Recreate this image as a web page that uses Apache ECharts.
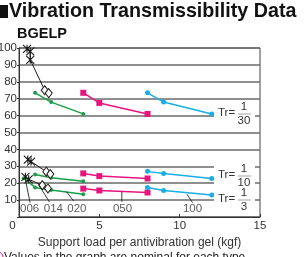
<!DOCTYPE html>
<html><head><meta charset="utf-8">
<script src="https://cdn.jsdelivr.net/npm/echarts@6/dist/echarts.min.js"></script>
<style>html,body{margin:0;padding:0;background:#fff;overflow:hidden}#c{width:308px;height:257px}</style>
</head><body><div id="c"></div>
<script>
// ---- data ----
const xTicks = [0, 5, 10, 15];
const yTicks = [10, 20, 30, 40, 50, 60, 70, 80, 90, 100];
// Tr = 1/30 group
const g020_30 = [[1, 73.5], [2, 68], [4, 61]];
const m050_30 = [[4, 73.5], [5, 67.5], [8, 61]];
const c100_30 = [[8, 73.5], [9, 68], [12, 61]];
const x006_30 = [[0.5, 99.5], [0.7, 98], [0.7, 93]];
const d014_30 = [[1.6, 75], [1.85, 73.3]];
// Tr = 1/10 group
const g020_10 = [[1, 25.2], [2, 23.2], [4, 21.2]];
const m050_10 = [[4, 25.8], [5, 24.2], [8, 22.8]];
const c100_10 = [[8, 27], [9, 25.8], [12, 22.8]];
const x006_10 = [[0.55, 34], [0.75, 32.8]];
const d014_10 = [[1.7, 26.8], [1.95, 25.4]];
// Tr = 1/3 group
const g020_3 = [[0.3, 23], [1, 17.5], [2, 16], [4, 13.5]];
const m050_3 = [[4, 16.8], [5, 15.7], [8, 14.5]];
const c100_3 = [[8, 17.5], [9, 15.7], [12, 13]];
const x006_3 = [[0.4, 23.8], [0.6, 22.3]];
const d014_3 = [[1.45, 18.8], [1.8, 16.9]];
// type labels and leader lines
const typeNames = ['006', '014', '020', '050', '100'];
const typeLabelPos = [[0.66, 4.6], [2.14, 4.6], [3.6, 4.6], [6.44, 4.6], [10.8, 4.6]];
const leaderFrom = [[0.69, 8.5], [1.9, 8.8], [3.4, 9.5], [6.4, 9], [10.8, 8.5]];
const leaderTo = [[0.4, 22], [1.2, 19.5], [2.95, 15], [6.4, 15], [10.45, 13.5]];
const trNum = ['1', '1', '1'];
const trDen = ['30', '10', '3'];

const GREEN = '#1a9e48', MAG = '#e8157f', CYAN = '#19aee6', BLK = '#1a1a1a';
const CROSS = 'path://M0,0L10,10M10,0L0,10M5,0L5,10';
const FONT = '"Liberation Sans", Arial, sans-serif';

function colorLine(data, color, symbol, size) {
  return { type: 'line', data: data, symbol: symbol, symbolSize: size, showSymbol: true,
    lineStyle: { color: color, width: 1.5 }, itemStyle: { color: color }, z: 3, animation: false };
}
function blackLine(cr, di) {
  const d = cr.map(p => ({ value: p, symbol: CROSS, symbolSize: 8,
      itemStyle: { color: 'none', borderColor: BLK, borderWidth: 1.1 } }))
    .concat(di.map(p => ({ value: p, symbol: 'diamond', symbolSize: [7, 9],
      itemStyle: { color: '#fff', borderColor: BLK, borderWidth: 1 } })));
  return { type: 'line', data: d, showSymbol: true, lineStyle: { color: BLK, width: 1 }, z: 4, animation: false };
}
const leaderData = [];
leaderFrom.forEach((p, i) => { leaderData.push(p, leaderTo[i], '-'); });

const series = [
  colorLine(g020_30, GREEN, 'circle', 4), colorLine(m050_30, MAG, 'rect', 6), colorLine(c100_30, CYAN, 'circle', 5),
  colorLine(g020_10, GREEN, 'circle', 4), colorLine(m050_10, MAG, 'rect', 6), colorLine(c100_10, CYAN, 'circle', 5),
  colorLine(g020_3, GREEN, 'circle', 4), colorLine(m050_3, MAG, 'rect', 6), colorLine(c100_3, CYAN, 'circle', 5),
  blackLine(x006_30, d014_30), blackLine(x006_10, d014_10), blackLine(x006_3, d014_3),
  { type: 'line', data: leaderData, showSymbol: false, symbol: 'none', connectNulls: false, z: 5, animation: false,
    lineStyle: { color: '#222', width: 0.9 } },
  { type: 'scatter', symbolSize: 0, z: 6, animation: false,
    data: typeLabelPos.map((p, i) => ({ value: p, name: typeNames[i] })),
    label: { show: true, position: 'inside', formatter: p => p.name, color: '#333', fontSize: 11.5, fontFamily: FONT } }
];

function trLabel(cy, num, den) {
  return [
    { type: 'rect', shape: { x: 214, y: cy - 12, width: 41, height: 24 }, style: { fill: '#fff' }, z: 10 },
    { type: 'text', x: 218, y: cy - 1, style: { text: 'Tr=', fontSize: 11.5, fontFamily: FONT, fill: '#333', verticalAlign: 'middle' }, z: 11 },
    { type: 'text', x: 244, y: cy - 7, style: { text: num, fontSize: 11.5, fontFamily: FONT, fill: '#333', align: 'center', verticalAlign: 'middle' }, z: 11 },
    { type: 'text', x: 244, y: cy + 7, style: { text: den, fontSize: 11.5, fontFamily: FONT, fill: '#333', align: 'center', verticalAlign: 'middle' }, z: 11 },
    { type: 'line', shape: { x1: 238, y1: cy, x2: 251, y2: cy }, style: { stroke: '#666', lineWidth: 0.6 }, z: 11 }
  ];
}

const chart = echarts.init(document.getElementById('c'), null, { renderer: 'canvas' });
chart.setOption({
  animation: false,
  backgroundColor: '#fff',
  grid: { left: 19, right: 48, top: 48, bottom: 40, containLabel: false, outerBoundsMode: 'none',
    show: true, borderColor: '#444', borderWidth: 1, backgroundColor: 'transparent' },
  xAxis: {
    type: 'value', min: 0, max: 15, interval: 5,
    name: 'Support load per antivibration gel (kgf)', nameLocation: 'middle', nameGap: 18,
    nameTextStyle: { fontSize: 12, color: '#333', fontFamily: FONT },
    axisLine: { lineStyle: { color: '#333', width: 1 } },
    axisTick: { show: true, inside: true, length: 3, lineStyle: { color: '#333' } },
    splitLine: { show: false },
    axisLabel: { margin: 3, fontSize: 11.5, color: '#333', fontFamily: FONT,
      formatter: v => xTicks.indexOf(v) === 0 ? '{z|' + v + '}' : String(v),
      rich: { z: { padding: [0, 13, 0, 0], fontSize: 11.5, color: '#333', fontFamily: FONT } } }
  },
  yAxis: {
    type: 'value', min: 0, max: 100, interval: 10,
    name: 'Vibration transmissibility (%)', nameLocation: 'middle', nameGap: 15.5, nameRotate: 90,
    nameTextStyle: { fontSize: 11, color: '#333', fontFamily: FONT },
    axisLine: { show: true, lineStyle: { color: '#333', width: 1 } },
    axisTick: { show: true, length: 2, lineStyle: { color: '#333' } },
    splitLine: { show: true, lineStyle: { color: '#6a6a6a', width: 1.5 } },
    axisLabel: { margin: 2, fontSize: 11.5, color: '#333', fontFamily: FONT,
      formatter: v => yTicks.indexOf(v) >= 0 ? String(v) : '' }
  },
  series: series,
  graphic: [
    { type: 'rect', shape: { x: 0, y: 5, width: 8, height: 13 }, style: { fill: '#111' } },
    { type: 'text', x: 9, y: 12, style: { text: 'Vibration Transmissibility Data', fontSize: 19.7, fontWeight: 'bold', fontFamily: FONT, fill: '#111', verticalAlign: 'middle' } },
    { type: 'text', x: 17, y: 34, style: { text: 'BGELP', fontSize: 14.5, fontWeight: 'bold', fontFamily: FONT, fill: '#111', verticalAlign: 'middle' } },
    { type: 'circle', shape: { cx: -2, cy: 257, r: 5 }, style: { fill: 'none', stroke: '#e8157f', lineWidth: 1 } },
    { type: 'text', x: 4, y: 251.5, style: { text: 'Values in the graph are nominal for each type.', fontSize: 12, fontFamily: FONT, fill: '#222', verticalAlign: 'top' } }
  ].concat(trLabel(114, trNum[0], trDen[0]), trLabel(176, trNum[1], trDen[1]), trLabel(200, trNum[2], trDen[2]))
});
</script></body></html>
